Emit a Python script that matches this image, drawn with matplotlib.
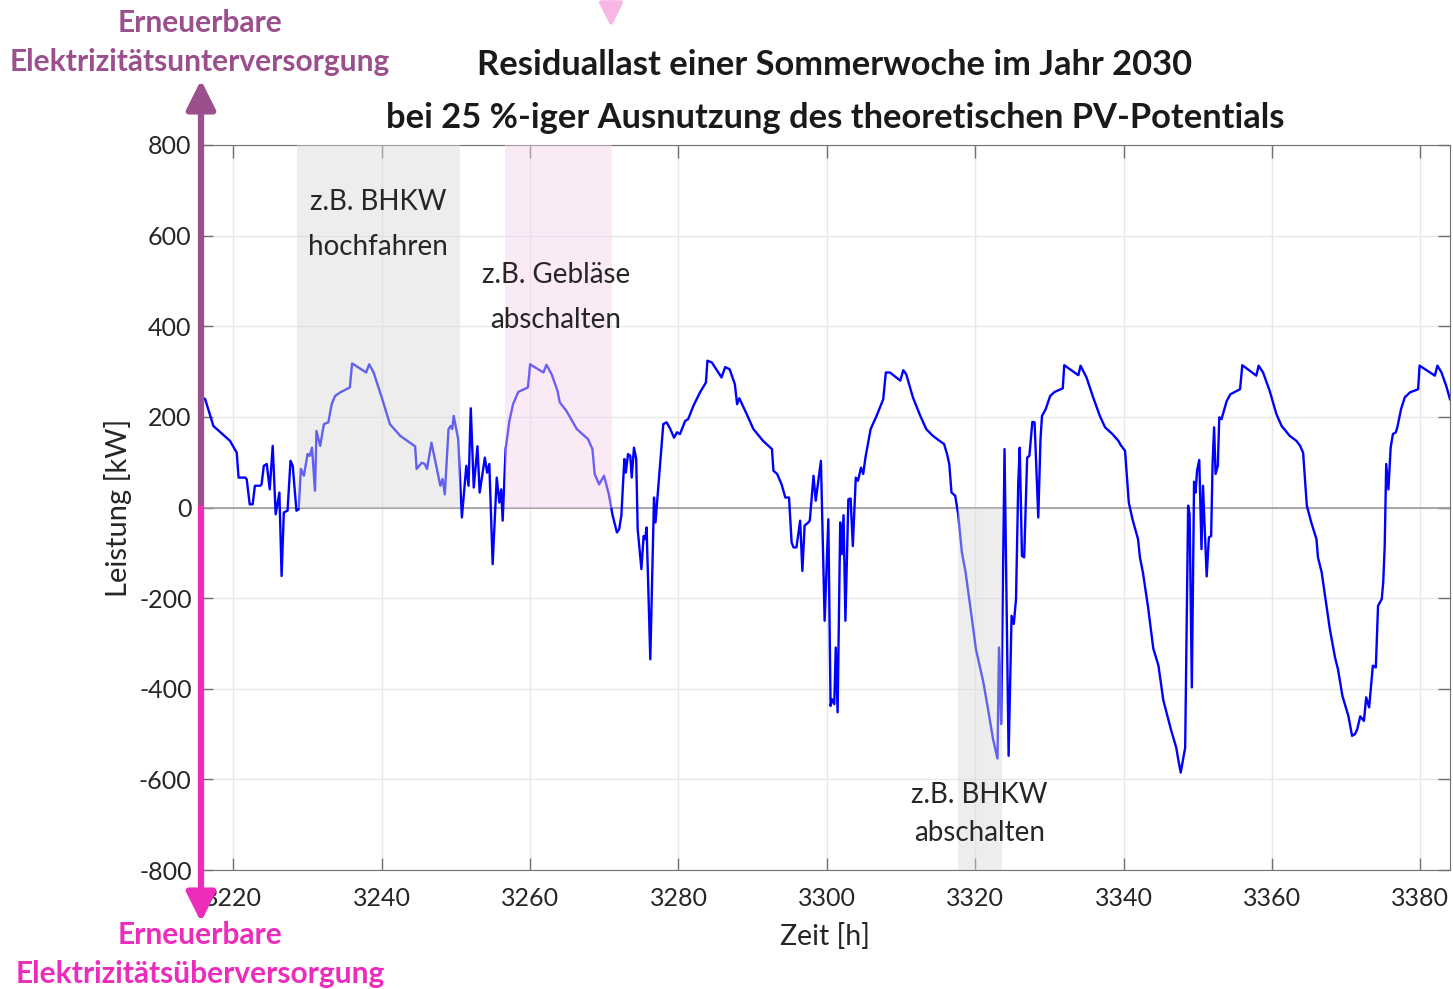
"""
Residual load of a summer week in 2030 (25 % PV potential),
with shaded ranges for load shifting measures
"""
import numpy as np
import matplotlib
matplotlib.use("Agg")
import matplotlib.pyplot as plt

plt.rcParams["font.family"] = ["Lato", "DejaVu Sans"]
plt.rcParams["axes.unicode_minus"] = False

# residual load trace (hour of year, kW)
seg_a_h = [3215.6, 3216.2, 3217.3, 3219.55, 3220.45, 3220.7, 3221.6, 3221.8, 3222.2, 3222.6,
           3222.9, 3223.6, 3223.8, 3224.1, 3224.5, 3224.9, 3225.3, 3225.7, 3226.2, 3226.5,
           3226.8, 3227.3, 3227.7, 3228.0, 3228.5, 3228.8]
seg_a_kw = [245, 239, 180, 147, 121, 66, 66, 62, 7, 7,
            48, 48, 51, 92, 96, 40, 136, -15, 33, -151,
            -11, -7, 103, 92, -7, -4]

seg_b_h = [3229.1, 3229.5, 3230.0, 3230.3, 3230.6, 3231.0, 3231.2, 3231.7, 3232.2, 3232.8,
           3233.25, 3233.7, 3234.4, 3235.7, 3236.0, 3237.9, 3238.3, 3238.9, 3240.0, 3241.1,
           3242.5, 3244.5, 3244.7, 3245.4, 3245.8, 3246.1, 3246.7, 3247.4, 3247.9, 3248.2,
           3248.5, 3249.0, 3249.3, 3249.5, 3249.7, 3250.3, 3250.8, 3251.4, 3251.7, 3252.0,
           3252.4, 3252.9, 3253.2, 3253.9, 3254.2, 3254.5, 3254.95, 3255.5, 3255.85, 3256.1,
           3256.3]
seg_b_kw = [85, 70, 118, 114, 132, 37, 169, 136, 184, 188,
            228, 246, 254, 265, 318, 298, 316, 298, 243, 184,
            158, 135, 85, 99, 96, 85, 143, 88, 48, 63,
            29, 173, 180, 173, 202, 151, -22, 92, 48, 219,
            44, 135, 33, 110, 77, 96, -125, 66, 11, 40,
            -29]

seg_c_h = [3256.7, 3257.2, 3257.7, 3258.4, 3259.7, 3260.0, 3261.8, 3262.2, 3262.9, 3263.7,
           3264.0, 3264.9, 3266.3, 3267.8, 3268.4, 3268.7, 3269.3, 3269.96, 3270.6, 3271.1,
           3271.7, 3272.0, 3272.3, 3272.7, 3272.9, 3273.2, 3273.5, 3273.7, 3274.0, 3274.3,
           3274.5, 3275.0, 3275.3, 3275.5, 3275.7, 3276.2, 3276.7, 3276.9]
seg_c_kw = [129, 191, 228, 255, 265, 316, 298, 315, 294, 257,
            232, 213, 173, 151, 129, 74, 51, 70, 30, -16,
            -55, -48, -18, 107, 77, 118, 114, 66, 132, 107,
            -48, -136, -63, -70, -44, -335, 22, -33]

seg_d_h = [3277.5, 3277.95, 3278.4, 3278.9, 3279.4, 3279.8, 3280.2, 3280.9, 3281.3, 3282.0,
           3282.9, 3283.7, 3283.9, 3284.5, 3285.8, 3286.3, 3286.9, 3287.6, 3287.9, 3288.2,
           3289.2, 3290.1, 3291.4, 3292.6, 3292.8, 3293.3, 3293.9, 3294.4, 3294.9, 3295.25,
           3295.5, 3295.9, 3296.4, 3296.7, 3297.0, 3297.5, 3297.7, 3298.2, 3298.5]
seg_d_kw = [92, 184, 188, 173, 154, 166, 162, 191, 195, 224,
            254, 276, 324, 320, 287, 310, 305, 272, 228, 241,
            206, 173, 147, 129, 81, 74, 51, 22, 22, -77,
            -88, -88, -29, -140, -40, -33, -29, 70, 15]

seg_e_h = [3299.2, 3299.7, 3300.2, 3300.5, 3300.7, 3301.0, 3301.2, 3301.45, 3301.8, 3302.0,
           3302.25, 3302.5, 3302.9, 3303.2, 3303.5, 3303.9, 3304.2, 3304.6, 3304.9, 3305.2,
           3305.9, 3306.7, 3307.6, 3307.95, 3308.5, 3309.9, 3310.3, 3310.7, 3311.6, 3312.6,
           3313.4, 3314.3, 3315.2, 3315.8, 3316.2, 3316.5, 3316.8, 3317.3, 3317.7, 3318.2,
           3318.7, 3319.5, 3320.1, 3321.1, 3321.8, 3322.4, 3323.0]
seg_e_kw = [103, -250, -26, -438, -423, -434, -309, -452, -33, -103,
            -17, -250, 18, 20, -85, 66, 59, 88, 74, 110,
            173, 202, 239, 298, 298, 280, 303, 294, 243, 202,
            173, 158, 147, 140, 118, 96, 33, 26, -15, -99,
            -143, -239, -313, -386, -452, -511, -554]

seg_f_h = [3323.2, 3323.5, 3323.95, 3324.5, 3324.9, 3325.2, 3325.5, 3325.8, 3326.0, 3326.3,
           3326.6, 3327.0, 3327.3, 3327.7, 3328.0, 3328.5, 3328.8, 3329.0, 3329.5, 3330.1,
           3330.7, 3331.8, 3332.0, 3333.9, 3334.2, 3335.0, 3335.9, 3336.8, 3337.5, 3338.5,
           3339.3, 3339.6, 3340.2, 3340.7, 3341.2, 3341.95, 3342.2, 3342.6, 3343.3, 3344.0,
           3344.7, 3345.35, 3346.4, 3347.1, 3347.4, 3347.7, 3348.3, 3348.7, 3348.9, 3349.2]
seg_f_kw = [-309, -478, 129, -548, -239, -257, -202, 55, 132, -107,
            -110, 110, 114, 189, 188, -22, 151, 202, 217, 246,
            255, 263, 314, 292, 313, 287, 243, 202, 177, 162,
            147, 138, 125, 11, -26, -70, -110, -143, -220, -311,
            -349, -425, -491, -530, -559, -585, -530, 4, -15, -397]

seg_g_h = [3349.5, 3349.7, 3349.9, 3350.2, 3350.5, 3350.7, 3351.2, 3351.5, 3351.8, 3352.0,
           3352.2, 3352.4, 3352.7, 3352.9, 3353.2, 3353.9, 3354.4, 3355.7, 3356.0, 3357.9,
           3358.2, 3358.8, 3359.7, 3360.6, 3361.3, 3362.4, 3363.3, 3363.8, 3364.2, 3364.7,
           3365.3, 3366.0, 3366.2, 3366.7, 3367.35, 3367.8, 3368.5, 3368.9, 3369.5, 3370.3,
           3370.8, 3371.2, 3371.5, 3371.9, 3372.4, 3372.7, 3373.1, 3373.6, 3374.0, 3374.3,
           3374.8, 3375.0, 3375.2, 3375.4, 3375.7, 3376.0, 3376.3, 3376.7, 3376.9, 3377.4,
           3377.9, 3378.6, 3379.7, 3379.9, 3381.96, 3382.3, 3382.85, 3383.5, 3384.0]
seg_g_kw = [57, 33, 81, 105, -92, 48, -152, -66, -63, 99,
            177, 74, 92, 199, 195, 235, 250, 261, 314, 291,
            313, 298, 257, 206, 180, 158, 147, 136, 121, 4,
            -33, -70, -110, -143, -217, -268, -331, -357, -416, -460,
            -504, -500, -489, -461, -471, -419, -441, -349, -353, -217,
            -202, -165, -85, 96, 40, 132, 162, 166, 177, 217,
            243, 254, 261, 313, 291, 313, 298, 268, 239]

# shaded ranges (hours)
bhkw_up = (3228.6, 3250.5)
blower_off = (3256.6, 3271.0)
bhkw_off = (3317.7, 3323.6)

x_ticks = list(range(3220, 3381, 20))
y_ticks = list(range(-800, 801, 200))

TITLE = ("Residuallast einer Sommerwoche im Jahr 2030",
         "bei 25 %-iger Ausnutzung des theoretischen PV-Potentials")
PURPLE = "#9b4f8c"
PINK = "#ee2cbc"


def main():
    hours = np.concatenate([seg_a_h, seg_b_h, seg_c_h, seg_d_h, seg_e_h, seg_f_h, seg_g_h])
    load = np.concatenate([seg_a_kw, seg_b_kw, seg_c_kw, seg_d_kw, seg_e_kw, seg_f_kw, seg_g_kw])

    W, H = 1453, 989
    fig = plt.figure(figsize=(W / 100, H / 100), dpi=100)
    ax = fig.add_axes([200 / W, 119 / H, 1250 / W, 725 / H])

    ax.plot(hours, load, color="#0000ff", lw=1.7, zorder=2)
    ax.axhline(0, color="#9a9a9a", lw=1.2, zorder=1.5)

    # shading sits on top of the line, so the line looks faded there
    ax.fill_between(bhkw_up, 0, 800, color="#d9d9d9", alpha=0.45, lw=0, zorder=3)
    ax.fill_between(blower_off, 0, 800, color="#f6d2ed", alpha=0.45, lw=0, zorder=3)
    ax.fill_between(bhkw_off, -800, 0, color="#d9d9d9", alpha=0.45, lw=0, zorder=3)

    ax.set_xlim(3215.5, 3384)
    ax.set_ylim(-800, 800)
    ax.set_xticks(x_ticks)
    ax.set_yticks(y_ticks)
    ax.grid(True, color="#e8e8e8", lw=1)
    ax.set_axisbelow(True)
    ax.tick_params(direction="in", length=9, width=1, top=True, right=True,
                   labelsize=18, color="#707070", labelcolor="#262626")
    ax.tick_params(axis="x", pad=12)
    ax.tick_params(axis="y", pad=6)
    for sp in ax.spines.values():
        sp.set_color("#707070")

    ax.set_xlabel("Zeit [h]", fontsize=20.5, color="#262626", va="center")
    ax.xaxis.set_label_coords(0.5, -0.092)
    ax.set_ylabel("Leistung [kW]", fontsize=21, color="#262626", va="center")
    ax.yaxis.set_label_coords(-0.066, 0.5)

    # annotations inside the shaded ranges
    ax.text(np.mean(bhkw_up), 624, "z.B. BHKW\nhochfahren", ha="center", va="center",
            fontsize=20, color="#262626", linespacing=1.9, zorder=4)
    ax.text(np.mean(blower_off) - 0.3, 463, "z.B. Gebläse\nabschalten", ha="center", va="center",
            fontsize=20, color="#262626", linespacing=1.9, zorder=4)
    ax.text(3320.6, -676, "z.B. BHKW\nabschalten", ha="center", va="center",
            fontsize=20, color="#262626", linespacing=1.55, zorder=4)

    # title
    fig.text(835 / W, 1 - 65 / H, TITLE[0], ha="center", va="center",
             fontsize=24.8, weight="bold", color="#1a1a1a")
    fig.text(835 / W, 1 - 118 / H, TITLE[1], ha="center", va="center",
             fontsize=24.8, weight="bold", color="#1a1a1a")

    # supply arrows along the y-axis
    ax.annotate("", xy=(201, H - 80), xytext=(201, H - 508), xycoords="figure pixels",
                arrowprops=dict(arrowstyle="-|>,head_length=0.8,head_width=0.4", lw=4.5,
                                color=PURPLE, shrinkA=0, shrinkB=0, mutation_scale=22))
    ax.annotate("", xy=(201, H - 922), xytext=(201, H - 508), xycoords="figure pixels",
                arrowprops=dict(arrowstyle="-|>,head_length=0.8,head_width=0.4", lw=4.5,
                                color=PINK, shrinkA=0, shrinkB=0, mutation_scale=22))
    ax.annotate("", xy=(611, H - 27), xytext=(611, H + 5), xycoords="figure pixels",
                arrowprops=dict(arrowstyle="-|>,head_length=0.8,head_width=0.4", lw=3,
                                color="#f7b6e4", shrinkA=0, shrinkB=0, mutation_scale=18))

    fig.text(200 / W, 1 - 23 / H, "Erneuerbare", ha="center", va="center",
             fontsize=21.5, weight="bold", color=PURPLE)
    fig.text(200 / W, 1 - 62 / H, "Elektrizitätsunterversorgung", ha="center", va="center",
             fontsize=21.5, weight="bold", color=PURPLE)
    fig.text(200 / W, 1 - 935 / H, "Erneuerbare", ha="center", va="center",
             fontsize=21.5, weight="bold", color=PINK)
    fig.text(200 / W, 1 - 974 / H, "Elektrizitätsüberversorgung", ha="center", va="center",
             fontsize=21.5, weight="bold", color=PINK)

    fig.savefig("out.png", dpi=100)
    plt.close(fig)


if __name__ == "__main__":
    main()
